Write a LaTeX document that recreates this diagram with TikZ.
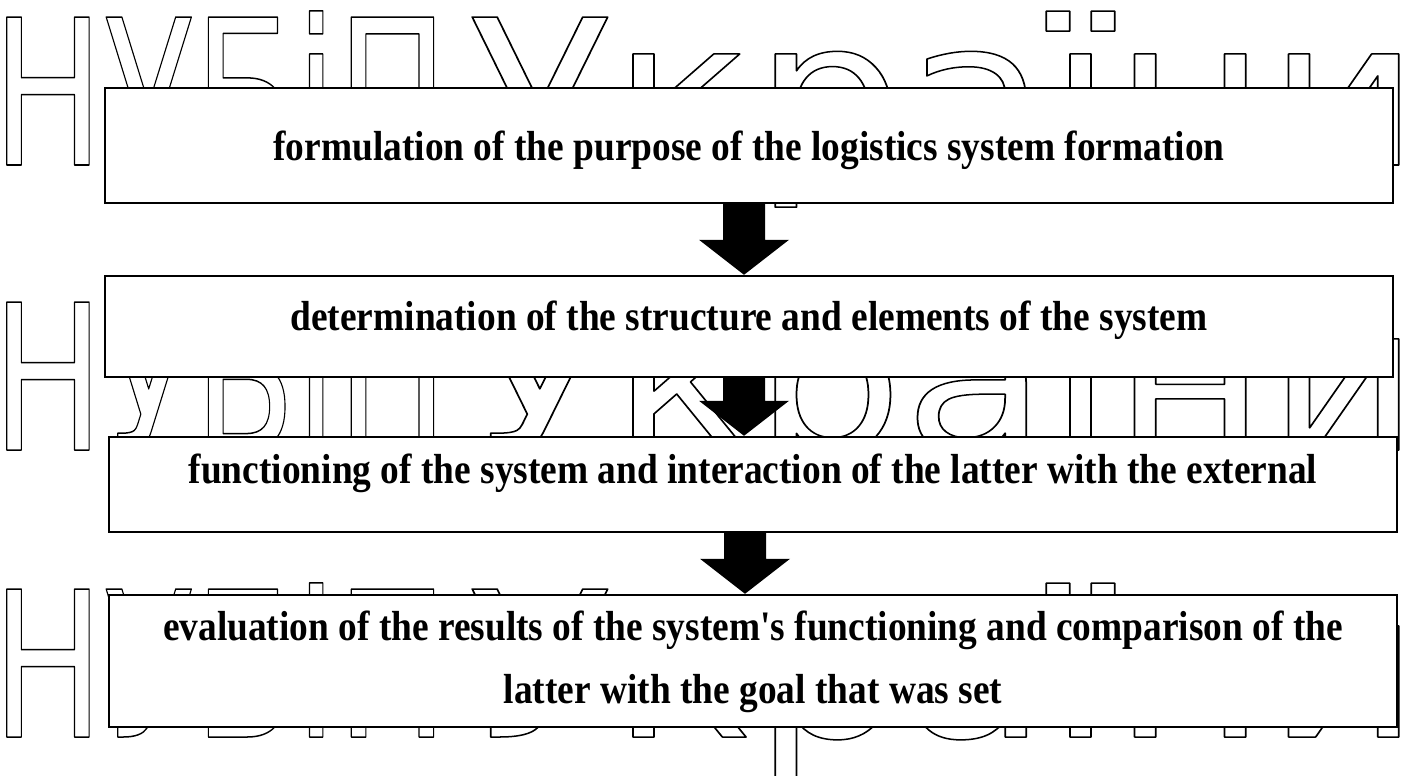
\documentclass[tikz,border=0pt]{standalone}
\usepackage{fontspec}
\usepackage{graphicx}
\setmainfont{Liberation Serif}
\newfontfamily\wmfont{DejaVu Sans}
\usetikzlibrary{calc}
\tikzset{
  box/.style={draw=black, line width=2.4pt, fill=white, rectangle, inner sep=0pt, minimum width=1288pt},
  lbl/.style={font=\bfseries\fontsize{42}{50}\selectfont, anchor=base, inner sep=0pt},
  wm/.style={anchor=base west, inner sep=0pt, font=\wmfont\fontsize{203}{203}\selectfont},
  arrowfill/.style={fill=black},
}
\newcommand\outlined[1]{\special{pdf:code 1 Tr 1.5 w 1 j}#1\special{pdf:code 0 Tr 0 j}}
\newcommand\cond[1]{\scalebox{0.89}[1]{#1}}
\newcommand\wmA{\scalebox{0.73}[1]{\outlined{НУБіП}}}
\newcommand\wmB{\scalebox{1.16}[1]{\outlined{України}}}
\newcommand\blockarrow[2]{%
  \fill[arrowfill] let \p1=(#1), \p2=(#2) in
    (\x1-21pt,\y1) -- (\x1+21pt,\y1) -- (\x1+21pt,\y2+35pt) -- (\x1+45pt,\y2+35pt)
    -- (\x1,\y2) -- (\x1-45pt,\y2+35pt) -- (\x1-21pt,\y2+35pt) -- cycle;}
\begin{document}
\begin{tikzpicture}[x=1pt,y=-1pt]
\useasboundingbox (0,0) rectangle (1405,776);
\fill[white] (0,0) rectangle (1405,776);
% watermark
\node[wm] (w1a) at (-8,165) {\wmA};
\node[wm] (w1b) at (468,165) {\wmB};
\node[wm] (w2a) at (-8,450) {\wmA};
\node[wm] (w2b) at (468,450) {\wmB};
\node[wm] (w3a) at (-8,737) {\wmA};
\node[wm] (w3b) at (468,737) {\wmB};
% boxes
\node[box, minimum height=115pt] (b1) at (749,145.5) {};
\node[box, minimum height=101pt] (b2) at (749,326.5) {};
\node[box, minimum height=95pt] (b3) at (753,484.5) {};
\node[box, minimum height=132pt] (b4) at (753,661) {};
% texts
\node[lbl] (t1) at (749,160) {\cond{formulation of the purpose of the logistics system formation}};
\node[lbl] (t2) at (749,330) {\cond{determination of the structure and elements of the system}};
\node[lbl] (t3) at (753,483) {\cond{functioning of the system and interaction of the latter with the external}};
\node[lbl] (t4a) at (753,640) {\cond{evaluation of the results of the system\textquotesingle s functioning and comparison of the}};
\node[lbl] (t4b) at (753,703) {\cond{latter with the goal that was set}};
% arrows
\coordinate (a1s) at ($(b1.south)+(-5,0)$);
\coordinate (a1e) at ($(b2.north)+(-5,0)$);
\coordinate (a2s) at ($(b2.south)+(-5,0)$);
\coordinate (a2e) at ($(b3.north)+(-9,0)$);
\coordinate (a3s) at ($(b3.south)+(-8,0)$);
\coordinate (a3e) at ($(b4.north)+(-8,0)$);
\blockarrow{a1s}{a1e}
\blockarrow{a2s}{a2e}
\blockarrow{a3s}{a3e}
\end{tikzpicture}
\end{document}
